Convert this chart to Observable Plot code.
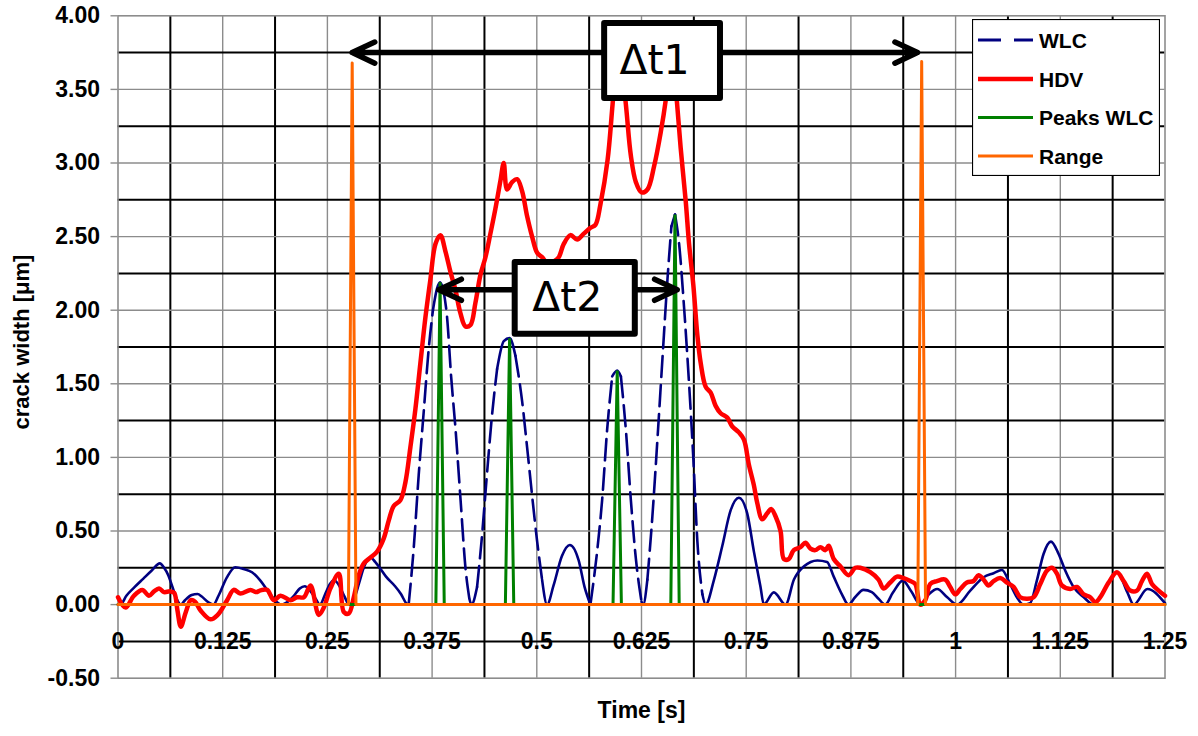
<!DOCTYPE html>
<html><head><meta charset="utf-8">
<script src="https://cdn.jsdelivr.net/npm/d3@7"></script>
<script src="https://cdn.jsdelivr.net/npm/@observablehq/plot@0.6"></script>
<style>
html,body{margin:0;padding:0;background:#fff;}
#wrap{position:relative;width:1198px;height:736px;overflow:hidden;background:#fff;}
#legend{position:absolute;left:972px;top:19px;}
</style></head><body><div id="wrap"></div>
<script>
// ---------- data ----------
const xTicks = [0, 0.125, 0.25, 0.375, 0.5, 0.625, 0.75, 0.875, 1, 1.125, 1.25];
const xTickLabels = ["0", "0.125", "0.25", "0.375", "0.5", "0.625", "0.75", "0.875", "1", "1.125", "1.25"];
const yTicks = [-0.5, 0, 0.5, 1, 1.5, 2, 2.5, 3, 3.5, 4];
const seriesNames = ["WLC", "HDV", "Peaks WLC", "Range"];

const wlcTime = [0,0.003,0.01,0.02,0.03,0.04,0.05,0.055,0.06,0.065,0.07,0.075,0.08,0.088,0.095,0.1,0.108,0.114,0.12,0.13,0.14,0.15,0.16,0.17,0.18,0.19,0.195,0.2,0.21,0.217,0.223,0.23,0.236,0.241,0.248,0.253,0.258,0.264,0.27,0.276,0.282,0.288,0.294,0.3015,0.307,0.3125,0.32,0.33,0.338,0.344,0.347,0.353,0.359,0.365,0.371,0.376,0.381,0.3845,0.388,0.3929,0.3977,0.403,0.409,0.415,0.4195,0.422,0.4287,0.434,0.4407,0.4466,0.4526,0.4606,0.4675,0.4745,0.4825,0.4884,0.4944,0.5004,0.5063,0.5123,0.52,0.53,0.5394,0.55,0.557,0.564,0.572,0.578,0.584,0.59,0.596,0.6004,0.6063,0.6123,0.6183,0.625,0.627,0.632,0.638,0.644,0.65,0.656,0.6607,0.665,0.6699,0.6758,0.6818,0.687,0.6917,0.6977,0.7016,0.7116,0.7215,0.7314,0.7413,0.7512,0.7592,0.7671,0.771,0.783,0.797,0.807,0.819,0.835,0.8465,0.8545,0.8643,0.872,0.88,0.89,0.9,0.908,0.916,0.925,0.937,0.947,0.958,0.968,0.978,0.99,1.0016,1.0175,1.0335,1.0454,1.0553,1.065,1.0732,1.081,1.089,1.097,1.105,1.1138,1.123,1.131,1.141,1.153,1.165,1.177,1.193,1.205,1.2126,1.229,1.25];
const wlcValue = [0,0,0.06,0.12,0.175,0.23,0.28,0.25,0.2,0.12,0.04,0,0.03,0.065,0.072,0.055,0.015,0,0.06,0.185,0.254,0.242,0.22,0.163,0.084,0.016,0,0.01,0.06,0.11,0.125,0.09,0.04,0,0.08,0.14,0.165,0.13,0.06,0,0.04,0.15,0.26,0.32,0.29,0.25,0.19,0.13,0.07,0.01,0,0.38,0.88,1.31,1.74,2.0,2.15,2.19,2.15,1.95,1.55,1.19,0.71,0.24,0.04,0,0.12,0.43,0.9,1.29,1.6,1.79,1.81,1.69,1.38,1.07,0.74,0.43,0.17,0,0.13,0.33,0.405,0.3,0.12,0,0.36,0.71,1.19,1.55,1.59,1.55,1.19,0.71,0.31,0.02,0,0.17,0.6,1.12,1.67,2.21,2.57,2.65,2.45,2.02,1.5,0.98,0.43,0.07,0,0.17,0.4,0.64,0.726,0.62,0.36,0.12,0,0.083,0,0.17,0.26,0.3,0.29,0.19,0.07,0,0.05,0.1,0.085,0.04,0,0.08,0.163,0.09,0,0.07,0.106,0.05,0,0.095,0.186,0.213,0.235,0.14,0.05,0,0.01,0.163,0.344,0.428,0.344,0.23,0.118,0.05,0,0.095,0.22,0.084,0,0.106,0.01];

const hdvTime = [0,0.009,0.019,0.029,0.037,0.043,0.049,0.055,0.062,0.067,0.071,0.075,0.081,0.087,0.092,0.0986,0.1105,0.119,0.1303,0.1382,0.146,0.1582,0.165,0.17,0.178,0.186,0.194,0.206,0.2139,0.2219,0.2298,0.2397,0.2457,0.2536,0.2636,0.2696,0.2755,0.2815,0.2875,0.2935,0.3015,0.3093,0.3173,0.3232,0.3292,0.3372,0.3431,0.3491,0.3551,0.361,0.367,0.373,0.379,0.3849,0.3909,0.3969,0.4028,0.4088,0.4148,0.4208,0.4267,0.4327,0.4387,0.4446,0.4506,0.4566,0.4605,0.4645,0.4705,0.4765,0.4824,0.4884,0.4944,0.5004,0.5063,0.5143,0.52,0.5262,0.5322,0.5402,0.5481,0.5561,0.5641,0.57,0.576,0.5845,0.5905,0.5975,0.6063,0.6123,0.6183,0.625,0.6321,0.6401,0.648,0.654,0.661,0.6671,0.6718,0.6778,0.6818,0.6869,0.6917,0.6957,0.7016,0.7076,0.7135,0.7195,0.7274,0.7334,0.7413,0.7473,0.7532,0.7592,0.7632,0.7691,0.7751,0.7798,0.785,0.791,0.795,0.8009,0.8068,0.8148,0.8207,0.8267,0.8326,0.8386,0.8445,0.8485,0.8545,0.8624,0.8723,0.8803,0.8862,0.8981,0.908,0.914,0.922,0.93,0.9379,0.9459,0.9518,0.9578,0.9638,0.9697,0.9777,0.9876,0.9936,0.9996,1.0056,1.0135,1.0215,1.0274,1.0334,1.0394,1.0454,1.0533,1.0613,1.0692,1.0772,1.0851,1.0931,1.1011,1.109,1.115,1.121,1.1269,1.1369,1.1448,1.1528,1.1608,1.1667,1.1727,1.1827,1.1926,1.2006,1.2086,1.2165,1.2225,1.2285,1.2344,1.2424,1.25];
const hdvValue = [0.05,-0.02,0.06,0.1,0.06,0.09,0.11,0.085,0.09,0.08,-0.04,-0.15,-0.05,0.03,0.02,-0.04,-0.1,-0.07,0.03,0.1,0.075,0.1,0.085,0.097,0.1,0.03,0.06,0.03,0.05,0.05,0.13,-0.07,-0.02,0.11,0.21,-0.05,-0.06,0.05,0.2,0.28,0.32,0.36,0.45,0.57,0.67,0.71,0.83,1.07,1.33,1.64,1.95,2.21,2.45,2.51,2.4,2.26,2.14,1.98,1.89,1.9,2.05,2.24,2.36,2.52,2.69,2.88,3.0,2.82,2.87,2.89,2.81,2.64,2.5,2.39,2.36,2.31,2.33,2.36,2.45,2.51,2.48,2.52,2.56,2.58,2.72,3.02,3.4,3.85,3.4,3.05,2.87,2.8,2.82,2.98,3.21,3.43,3.8,3.43,3.1,2.74,2.45,2.17,1.83,1.64,1.48,1.44,1.35,1.3,1.27,1.21,1.17,1.12,0.95,0.81,0.69,0.58,0.62,0.65,0.6,0.5,0.31,0.31,0.37,0.39,0.42,0.38,0.37,0.39,0.37,0.4,0.31,0.26,0.2,0.25,0.25,0.22,0.17,0.11,0.15,0.19,0.18,0.16,0.14,0,0.03,0.14,0.16,0.17,0.12,0.07,0.106,0.15,0.16,0.2,0.17,0.13,0.16,0.18,0.15,0.12,0.05,0.04,0.05,0.14,0.23,0.25,0.21,0.13,0.106,0.12,0.07,0.05,0.016,0.05,0.15,0.22,0.16,0.095,0.095,0.16,0.21,0.14,0.095,0.06];

const peaksTime  = [0, 0.3795, 0.3845, 0.3895, 0.4625, 0.4675, 0.4725, 0.591, 0.596, 0.601, 0.66, 0.665, 0.67, 1.25];
const peaksValue = [0, 0, 2.19, 0, 0, 1.81, 0, 0, 1.59, 0, 0, 2.65, 0, 0];

const rangeTime  = [0, 0.2751, 0.2796, 0.2841, 0.9549, 0.9595, 0.9641, 1.25];
const rangeValue = [0, 0, 3.68, 0, 0, 3.69, 0, 0];

const annotationLabels = ["Δt1", "Δt2"];
const annotationFrom   = [0.2796, 0.383];   // arrow tips, s
const annotationTo     = [0.9545, 0.6676];
const annotationLevel  = [3.75, 2.139];     // µm

// ---------- layout / styles ----------
const colors = {WLC: "#000080", HDV: "#ff0000", "Peaks WLC": "#008000", Range: "#ff6600"};
const boxLayout = [ // annotation boxes in data units (x1,x2,y1,y2)
  {x1: 0.581, x2: 0.7193, y1: 3.438, y2: 3.948},
  {x1: 0.4742, x2: 0.6176, y1: 1.837, y2: 2.324}
];
const font = "'Liberation Sans', Arial, Helvetica, sans-serif";

const rows = (ts, vs) => ts.map((t, i) => ({t, v: vs[i]}));

// Excel-like dash look: steep segments appear dashed, gentle ones solid
function splitRuns(ts, vs, thr) {
  const solid = [], dashed = [];
  let cur = null, id = 0;
  for (let i = 0; i < ts.length - 1; i++) {
    const steep = Math.abs((vs[i + 1] - vs[i]) / (ts[i + 1] - ts[i])) > thr;
    const tgt = steep ? dashed : solid;
    if (steep !== cur) { id++; cur = steep; tgt.push({t: ts[i], v: vs[i], run: id}); }
    tgt.push({t: ts[i + 1], v: vs[i + 1], run: id});
  }
  return {solid, dashed};
}
const wlcRuns = splitRuns(wlcTime, wlcValue, 35);

const halfX = xTicks.slice(0, -1).map((t, i) => (t + xTicks[i + 1]) / 2);
const halfY = yTicks.slice(0, -1).map((t, i) => (t + yTicks[i + 1]) / 2);
const innerX = xTicks.slice(1, -1);
const innerY = yTicks.slice(1, -1);

const ann = annotationLabels.map((label, i) => ({
  label, from: annotationFrom[i], to: annotationTo[i], level: annotationLevel[i],
  ...boxLayout[i], cx: (boxLayout[i].x1 + boxLayout[i].x2) / 2, cy: (boxLayout[i].y1 + boxLayout[i].y2) / 2
}));
const arrows = ann.flatMap(a => [{x1: a.cx, x2: a.from, y: a.level}, {x1: a.cx, x2: a.to, y: a.level}]);
const xLabelRows = xTicks.map((t, i) => ({t, label: xTickLabels[i]}));

const chart = Plot.plot({
  width: 1198, height: 736,
  marginLeft: 117.5, marginRight: 33.5, marginTop: 15.3, marginBottom: 58.3,
  x: {domain: [0, 1.25], axis: null},
  y: {domain: [-0.5, 4], axis: null},
  style: {fontFamily: font, background: "white", overflow: "visible"},
  marks: [
    Plot.ruleX(innerX, {stroke: "#8c8c8c", strokeWidth: 1.4}),
    Plot.ruleX(halfX, {stroke: "#000", strokeWidth: 2}),
    Plot.ruleY(innerY, {stroke: "#8c8c8c", strokeWidth: 1.4}),
    Plot.ruleY(halfY, {stroke: "#000", strokeWidth: 2}),
    Plot.frame({stroke: "#8c8c8c", strokeWidth: 1.6}),
    Plot.axisY({ticks: yTicks, tickFormat: d => d.toFixed(2), tickSize: 7, tickPadding: 11,
      fontSize: 23, fontWeight: "bold", stroke: "#8c8c8c", strokeWidth: 1.4, fill: "#000", label: null}),
    Plot.text(xLabelRows, {x: "t", y: () => -0.25, text: "label", fontSize: 23, fontWeight: "bold", fill: "#000"}),
    Plot.line(wlcRuns.solid, {x: "t", y: "v", z: "run", stroke: colors.WLC, strokeWidth: 2.6, curve: "monotone-x", strokeLinejoin: "round", strokeLinecap: "round"}),
    Plot.line(wlcRuns.dashed, {x: "t", y: "v", z: "run", stroke: colors.WLC, strokeWidth: 2.6, curve: "monotone-x", strokeDasharray: "21,8"}),
    Plot.line(rows(hdvTime, hdvValue), {x: "t", y: "v", stroke: colors.HDV, strokeWidth: 4.5, curve: "catmull-rom", strokeLinejoin: "round", strokeLinecap: "round"}),
    Plot.line(rows(peaksTime, peaksValue), {x: "t", y: "v", stroke: colors["Peaks WLC"], strokeWidth: 3, strokeLinejoin: "miter"}),
    Plot.line(rows(rangeTime, rangeValue), {x: "t", y: "v", stroke: colors.Range, strokeWidth: 3}),
    Plot.arrow(arrows, {x1: "x1", x2: "x2", y1: "y", y2: "y", stroke: "#000", strokeWidth: 5.5,
      headAngle: 50, headLength: 6.8, strokeLinecap: "round", strokeLinejoin: "round"}),
    Plot.rect(ann, {x1: "x1", x2: "x2", y1: "y1", y2: "y2", fill: "white", stroke: "#000", strokeWidth: 6, strokeLinejoin: "round"}),
    Plot.text(ann, {x: "cx", y: "cy", text: "label", fontSize: 41, fontFamily: "'DejaVu Sans', sans-serif", fill: "#000", dx: -8}),
    Plot.text(["Time [s]"], {frameAnchor: "bottom", textAnchor: "middle", dy: 40, fontSize: 23, fontWeight: "bold", fill: "#000"}),
    Plot.text(["crack width [μm]"], {frameAnchor: "left", textAnchor: "middle", rotate: -90, dx: -96, dy: -5, fontSize: 22, fontWeight: "bold", fill: "#000"})
  ]
});
const wrap = document.getElementById("wrap");
wrap.appendChild(chart);

// legend (HTML overlay with SVG swatches)
const ns = "http://www.w3.org/2000/svg";
const lg = document.createElementNS(ns, "svg");
lg.setAttribute("id", "legend"); lg.setAttribute("width", 188); lg.setAttribute("height", 157);
lg.style.position = "absolute"; lg.style.left = "972px"; lg.style.top = "19px";
const box = document.createElementNS(ns, "rect");
Object.entries({x: 0.5, y: 0.5, width: 187, height: 156, fill: "#fff", stroke: "#000", "stroke-width": 1.2}).forEach(([k, v]) => box.setAttribute(k, v));
lg.appendChild(box);
const rowY = [21, 60, 98.5, 137];
const swatchStyle = {
  "WLC": {w: 3, dash: "23,13"},
  "HDV": {w: 4.5},
  "Peaks WLC": {w: 3},
  "Range": {w: 3}
};
seriesNames.forEach((name, i) => {
  const ln = document.createElementNS(ns, "line");
  const s = swatchStyle[name];
  Object.entries({x1: 6, x2: 61, y1: rowY[i], y2: rowY[i], stroke: colors[name], "stroke-width": s.w}).forEach(([k, v]) => ln.setAttribute(k, v));
  if (s.dash) ln.setAttribute("stroke-dasharray", s.dash);
  lg.appendChild(ln);
  const tx = document.createElementNS(ns, "text");
  tx.setAttribute("x", 67); tx.setAttribute("y", rowY[i]); tx.setAttribute("dy", "0.36em");
  tx.setAttribute("font-family", font); tx.setAttribute("font-size", 21); tx.setAttribute("font-weight", "bold");
  tx.textContent = name;
  lg.appendChild(tx);
});
wrap.appendChild(lg);
</script>
</body></html>
